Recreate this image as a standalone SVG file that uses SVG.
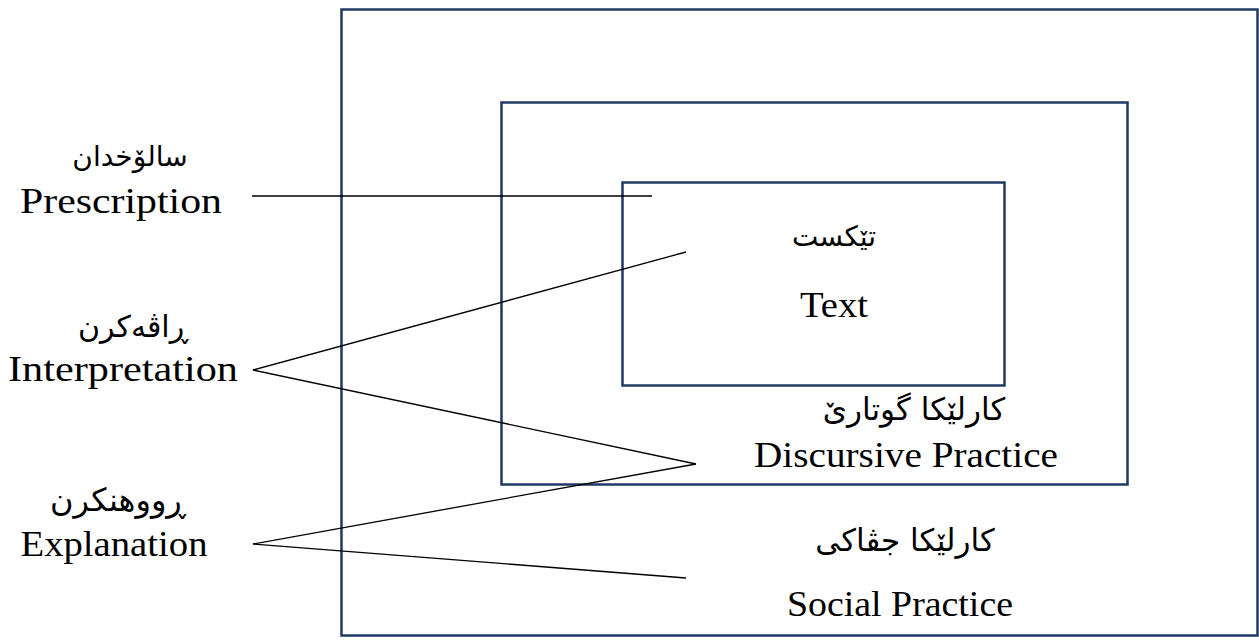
<svg xmlns="http://www.w3.org/2000/svg" width="1259" height="642" viewBox="0 0 1259 642">
<style>
.box{fill:none;stroke:#1f3864;stroke-width:2.5}
.ln{fill:none;stroke:#000;stroke-width:1.3}
.en{font-family:"Liberation Serif","DejaVu Serif",serif;font-size:36px;fill:#000;text-anchor:middle}
.ar{font-family:"DejaVu Sans",sans-serif;font-size:28px;fill:#000;text-anchor:middle;direction:rtl}
</style>
<rect width="1259" height="642" fill="#fff"/>
<g id="social">
<rect class="box" x="341.5" y="9.5" width="916" height="626"/>
<text class="ar" x="905" y="551" style="font-size:31px">کارلێکا جڤاکی</text>
<text class="en" x="900" y="616" textLength="226" lengthAdjust="spacingAndGlyphs">Social Practice</text>
</g>
<g id="discursive">
<rect class="box" x="501.5" y="102.5" width="626" height="382"/>
<text class="ar" x="914" y="420" style="font-size:31px">کارلێکا گوتارێ</text>
<text class="en" x="906" y="467" textLength="304" lengthAdjust="spacingAndGlyphs">Discursive Practice</text>
</g>
<g id="text">
<rect class="box" x="622.5" y="182.5" width="382" height="203"/>
<text class="ar" x="834" y="246">تێکست</text>
<text class="en" x="834" y="317" textLength="68" lengthAdjust="spacingAndGlyphs">Text</text>
</g>
<g id="prescription">
<text class="ar" x="130" y="166">سالۆخدان</text>
<text class="en" x="121" y="213" textLength="202" lengthAdjust="spacingAndGlyphs">Prescription</text>
</g>
<g id="interpretation">
<text class="ar" x="133" y="337" style="font-size:30px">ڕاڤەکرن</text>
<text class="en" x="123" y="381" textLength="230" lengthAdjust="spacingAndGlyphs">Interpretation</text>
</g>
<g id="explanation">
<text class="ar" x="118" y="511" style="font-size:32px">ڕووهنکرن</text>
<text class="en" x="114" y="556" textLength="187" lengthAdjust="spacingAndGlyphs">Explanation</text>
</g>
<g id="connectors">
<line class="ln" x1="252" y1="196" x2="652" y2="196"/>
<polyline class="ln" points="686,252 253,370 696,464"/>
<polyline class="ln" points="696,464 253,544 686,578"/>
</g>
</svg>
